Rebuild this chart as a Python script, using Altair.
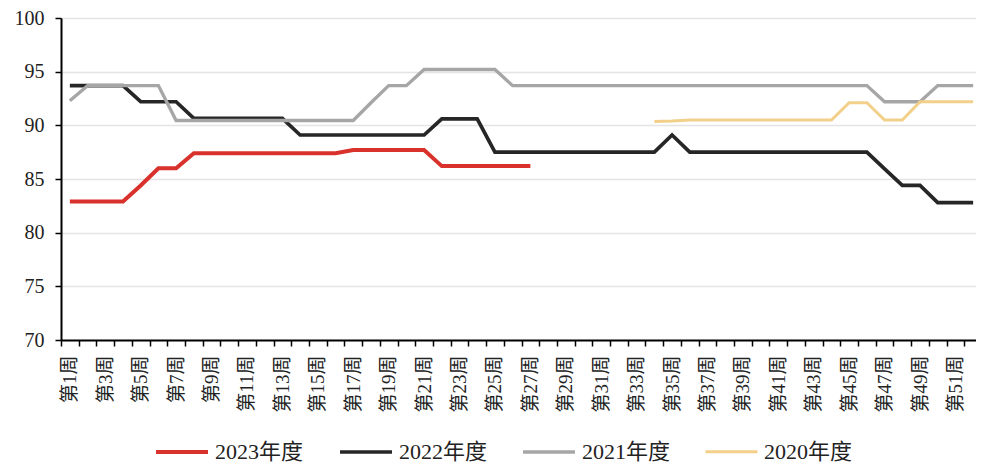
import altair as alt
import pandas as pd

years = ["2023年度", "2022年度", "2021年度", "2020年度"]
colors = ["#d9312b", "#262626", "#a6a6a6", "#f2d08a"]
widths = [4, 3, 3, 3]

weeks_2023 = list(range(1, 28))
vals_2023 = [82.9, 82.9, 82.9, 82.9, 84.4, 86.0, 86.0, 87.4, 87.4, 87.4,
             87.4, 87.4, 87.4, 87.4, 87.4, 87.4, 87.7, 87.7, 87.7, 87.7,
             87.7, 86.2, 86.2, 86.2, 86.2, 86.2, 86.2]

weeks_2022 = list(range(1, 53))
vals_2022 = [93.7, 93.7, 93.7, 93.7, 92.2, 92.2, 92.2, 90.65, 90.65, 90.65,
             90.65, 90.65, 90.65, 89.1, 89.1, 89.1, 89.1, 89.1, 89.1, 89.1,
             89.1, 90.6, 90.6, 90.6, 87.5, 87.5, 87.5, 87.5, 87.5, 87.5,
             87.5, 87.5, 87.5, 87.5, 89.1, 87.5, 87.5, 87.5, 87.5, 87.5,
             87.5, 87.5, 87.5, 87.5, 87.5, 87.5, 85.95, 84.4, 84.4, 82.8,
             82.8, 82.8]

weeks_2021 = list(range(1, 53))
vals_2021 = [92.3, 93.7, 93.7, 93.7, 93.7, 93.7, 90.45, 90.45, 90.45, 90.45,
             90.45, 90.45, 90.45, 90.45, 90.45, 90.45, 90.45, 92.1, 93.7, 93.7,
             95.2, 95.2, 95.2, 95.2, 95.2, 93.7, 93.7, 93.7, 93.7, 93.7,
             93.7, 93.7, 93.7, 93.7, 93.7, 93.7, 93.7, 93.7, 93.7, 93.7,
             93.7, 93.7, 93.7, 93.7, 93.7, 93.7, 92.2, 92.2, 92.2, 93.7,
             93.7, 93.7]

weeks_2020 = list(range(34, 53))
vals_2020 = [90.35, 90.4, 90.5, 90.5, 90.5, 90.5, 90.5, 90.5, 90.5, 90.5,
             90.5, 92.1, 92.1, 90.5, 90.5, 92.2, 92.2, 92.2, 92.2]

y_ticks = [70, 75, 80, 85, 90, 95, 100]

frames = []
for name, wk, vv in [("2023年度", weeks_2023, vals_2023),
                     ("2022年度", weeks_2022, vals_2022),
                     ("2021年度", weeks_2021, vals_2021),
                     ("2020年度", weeks_2020, vals_2020)]:
    frames.append(pd.DataFrame({"year": name, "week": wk, "value": vv}))
df = pd.concat(frames, ignore_index=True)

FONT = "'Liberation Serif', 'Noto Sans CJK SC', serif"

legend = alt.Legend(
    title=None, orient="none", legendX=93, legendY=406, direction="horizontal",
    symbolType="stroke", symbolSize=2700, labelFontSize=22,
    labelFont=FONT, labelColor="#222222", columnPadding=28, labelOffset=5,
    labelLimit=300, padding=0,
)

base = alt.Chart(df).mark_line(strokeJoin="miter").encode(
    x=alt.X("week:O",
            scale=alt.Scale(paddingInner=0, paddingOuter=0),
            axis=alt.Axis(
                title=None,
                labelExpr="datum.value % 2 == 1 ? '第' + datum.value + '周' : ''",
                labelAngle=-90, labelAlign="right", labelBaseline="middle",
                tickBand="extent", tickSize=6, tickColor="#000000", tickWidth=1.5,
                domainColor="#000000", domainWidth=2,
                labelFontSize=19, labelFont=FONT, labelColor="#222222",
                labelPadding=9, grid=False,
            )),
    y=alt.Y("value:Q",
            scale=alt.Scale(domain=[70, 100], nice=False, zero=False),
            axis=alt.Axis(
                title=None, values=y_ticks, grid=True,
                gridColor="#e4e4e4", gridWidth=1.5,
                tickSize=6, tickColor="#000000", tickWidth=1.5,
                domainColor="#000000", domainWidth=2,
                labelFontSize=20, labelFont=FONT, labelColor="#222222",
                labelPadding=11,
            )),
    color=alt.Color("year:N", scale=alt.Scale(domain=years, range=colors),
                    legend=legend),
    strokeWidth=alt.StrokeWidth("year:N", scale=alt.Scale(domain=years, range=widths),
                                legend=legend),
)

order = ["2022年度", "2021年度", "2020年度", "2023年度"]
layers = [base.transform_filter(alt.datum.year == y) for y in order]

chart = alt.layer(*layers).properties(
    width=921, height=322,
    padding={"left": 6, "top": 0, "right": -8, "bottom": 0},
).configure_view(stroke=None).configure(font=FONT)

chart.save("out.html", embed_options={"renderer": "svg", "actions": False})
